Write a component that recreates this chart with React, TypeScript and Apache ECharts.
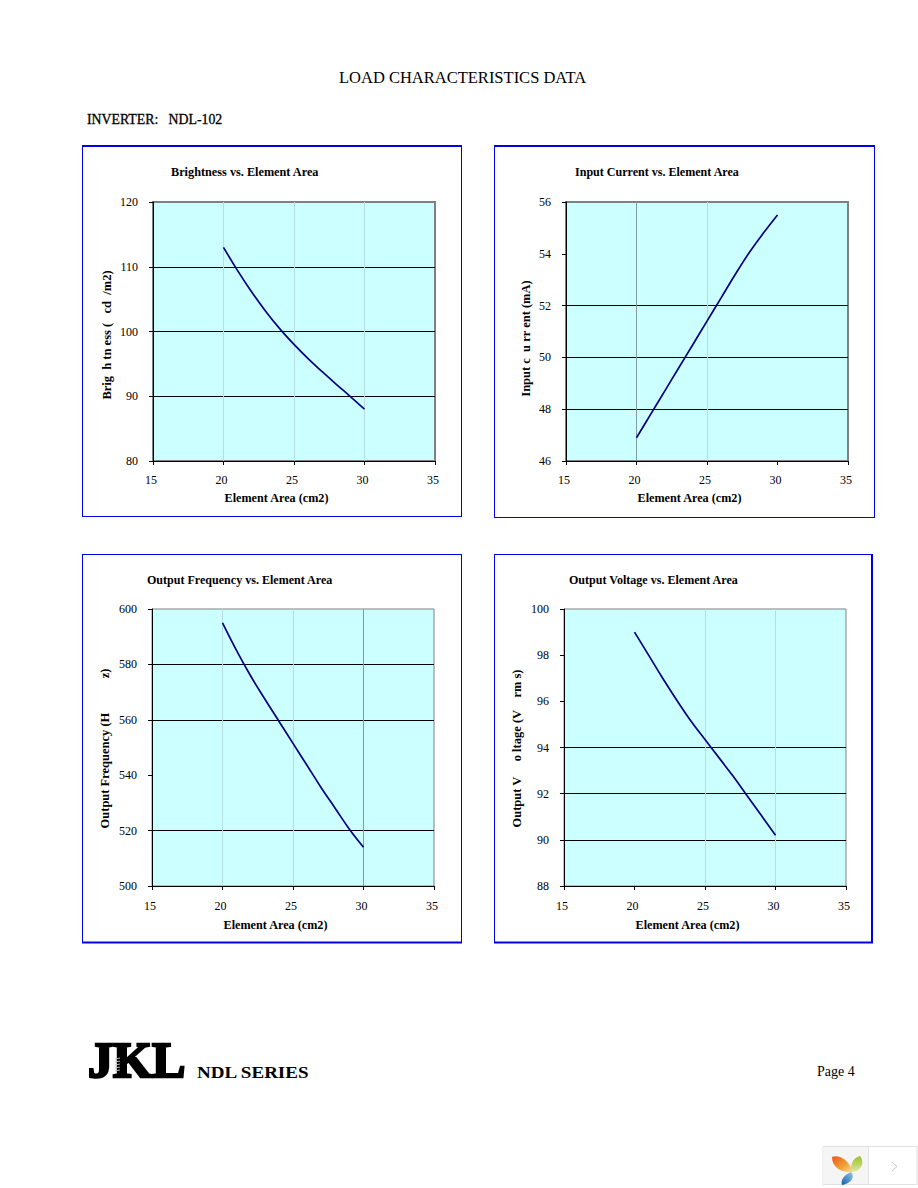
import React, { useEffect, useRef } from "react";
import * as echarts from "echarts";

const areas = [20, 21, 22, 23, 24, 25, 26, 27, 28, 29, 30];
const xTicks = { min: 15, max: 35, interval: 5 };

const brightness = [113, 109.4, 106.1, 103.1, 100.4, 98, 95.8, 93.8, 91.85, 89.95, 88];
const inputCurrent = [46.9, 47.8, 48.7, 49.6, 50.5, 51.4, 52.3, 53.2, 54.05, 54.8, 55.5];
const outputFrequency = [595, 585, 575.8, 567.5, 559.5, 551.5, 543.5, 535.5, 528, 520.5, 514];
const outputVoltage = [99, 98, 97, 96.05, 95.15, 94.35, 93.55, 92.75, 91.9, 91.05, 90.2];

const titles = [
  "Brightness vs. Element Area",
  "Input Current vs. Element Area",
  "Output Frequency vs. Element Area",
  "Output Voltage vs. Element Area",
];
const yNames = [
  "Brig  h tn ess (   cd  /m2)",
  "Input c  u rr ent (mA)",
  "Output Frequency (H           z)",
  "Output V     o ltage (V    rm s)",
];
const xName = "Element Area (cm2)";
const serif = "Liberation Serif";
const CLEAR = "rgba(0,0,0,0)";
const LIGHT = "#b5dcdf";
const DARK = "#7f9ca0";

registerShapes();

function registerShapes() {
  echarts.graphic.registerShape("leafOrange", echarts.graphic.extendPath("M832 1157 C838 1154 849 1159 853 1172 C844 1173 832 1169 832 1157 Z", {}));
  echarts.graphic.registerShape("leafGreen", echarts.graphic.extendPath("M860 1156 C865 1162 862 1171 852 1172 C849 1165 853 1158 860 1156 Z", {}));
  echarts.graphic.registerShape("leafBlue", echarts.graphic.extendPath("M851 1172 C856 1177 850 1184 842 1185 C840 1180 845 1174 851 1172 Z", {}));
}

const charts = [
  { g: [153, 202, 282, 259], min: 80, max: 120, step: 10, border: 2, data: brightness,
    hLines: [CLEAR, "#000", "#000", "#000", CLEAR], vLines: [CLEAR, LIGHT, LIGHT, LIGHT, CLEAR],
    title: [171, 172], titleSize: 12.25, gapX: 31, padX: 35, gapY: 40, padY: 7, tickMargin: 13 },
  { g: [566, 202, 282, 259], min: 46, max: 56, step: 2, border: 2, data: inputCurrent,
    hLines: [CLEAR, "#000", "#000", "#000", CLEAR, CLEAR], vLines: [CLEAR, DARK, LIGHT, CLEAR, CLEAR],
    title: [575, 172], titleSize: 12.05, gapX: 31, padX: 35, gapY: 34, padY: 14, tickMargin: 13 },
  { g: [152, 609, 282, 277], min: 500, max: 600, step: 20, border: 1, data: outputFrequency,
    hLines: [CLEAR, "#000", CLEAR, "#000", "#000", CLEAR], vLines: [CLEAR, LIGHT, LIGHT, DARK, CLEAR],
    title: [147, 580], titleSize: 12.05, gapX: 33, padX: 35, gapY: 41, padY: 2, tickMargin: 14 },
  { g: [564, 609, 282, 277], min: 88, max: 100, step: 2, border: 1, data: outputVoltage,
    hLines: [CLEAR, "#000", "#000", "#000", CLEAR, CLEAR, CLEAR], vLines: [CLEAR, CLEAR, LIGHT, LIGHT, CLEAR],
    title: [569, 580], titleSize: 12.05, gapX: 33, padX: 35, gapY: 41, padY: 2, tickMargin: 14 },
];

const BLUE = "#0000e6";
const edge = (x1: number, y1: number, x2: number, y2: number, w: number) => ({
  type: "line",
  shape: { x1, y1, x2, y2 },
  style: { stroke: BLUE, lineWidth: w },
  silent: true,
});
const frames = [
  edge(82, 146, 462, 146, 2), edge(82.5, 146, 82.5, 517, 1), edge(461.5, 146, 461.5, 517, 1), edge(82, 516.5, 462, 516.5, 1),
  edge(494, 146, 875, 146, 2), edge(494.5, 146, 494.5, 518, 1), edge(874.5, 146, 874.5, 518, 1), edge(494, 517.5, 875, 517.5, 1),
  edge(82, 554.5, 462, 554.5, 1), edge(82.5, 554, 82.5, 943, 1), edge(461.5, 554, 461.5, 943, 1), edge(82, 942.5, 462, 942.5, 2),
  edge(494, 554.5, 873, 554.5, 1), edge(494.5, 554, 494.5, 943, 1), edge(872, 554, 872, 943, 2), edge(494, 942.5, 873, 942.5, 2),
];

const txt = (text: string, x: number, y: number, size: number, weight: string, extra: any = {}, scaleX = 1) => ({
  type: "text",
  x,
  y,
  scaleX,
  silent: true,
  style: { text, fontFamily: serif, fontSize: size, fontWeight: weight, fill: "#000", verticalAlign: "middle", ...extra },
});

const springLines = [1058, 1061, 1064, 1067, 1070].map((y) => ({
  type: "line",
  shape: { x1: 115, y1: y + 1, x2: 120, y2: y },
  style: { stroke: "#bbbbbb", lineWidth: 1 },
  silent: true,
}));

function buildOption() {
  return {
    animation: false,
    backgroundColor: "#fff",
    grid: charts.map((c) => ({
      show: true,
      left: c.g[0],
      top: c.g[1],
      width: c.g[2],
      height: c.g[3],
      backgroundColor: "#ccffff",
      borderColor: "#808080",
      borderWidth: c.border,
    })),
    xAxis: charts.map((c, i) => ({
      type: "value",
      gridIndex: i,
      ...xTicks,
      name: xName,
      nameLocation: "middle",
      nameGap: c.gapX,
      nameTextStyle: { fontFamily: serif, fontSize: 12.2, fontWeight: "bold", color: "#000", padding: [0, c.padX, 0, 0] },
      axisLine: { show: true, onZero: false, lineStyle: { color: "#000", width: 1 } },
      axisTick: { show: true, length: 4, inside: false, lineStyle: { color: "#000" } },
      axisLabel: { fontFamily: serif, fontSize: 12, color: "#000", margin: c.tickMargin, padding: [0, 4, 0, 0] },
      splitLine: { show: true, lineStyle: { color: c.vLines, width: 1 } },
    })),
    yAxis: charts.map((c, i) => ({
      type: "value",
      gridIndex: i,
      min: c.min,
      max: c.max,
      interval: c.step,
      name: yNames[i],
      nameLocation: "middle",
      nameGap: c.gapY,
      nameRotate: 90,
      nameTextStyle: { fontFamily: serif, fontSize: 12.5, fontWeight: "bold", color: "#000", padding: [0, c.padY, 0, 0] },
      axisLine: { show: true, onZero: false, lineStyle: { color: "#000", width: 1 } },
      axisTick: { show: true, length: 4, inside: false, lineStyle: { color: "#000" } },
      axisLabel: { fontFamily: serif, fontSize: 12, color: "#000", margin: 15 },
      splitLine: { show: true, lineStyle: { color: c.hLines, width: 1 } },
    })),
    series: charts.map((c, i) => ({
      type: "line",
      xAxisIndex: i,
      yAxisIndex: i,
      data: areas.map((a, k) => [a, c.data[k]]),
      smooth: 0.4,
      showSymbol: false,
      lineStyle: { color: "#000080", width: 1.7 },
      silent: true,
    })),
    graphic: [
      ...frames,
      txt("LOAD CHARACTERISTICS DATA", 339, 77.5, 16.5, "normal"),
      txt("INVERTER:   NDL-102", 87, 119, 13.8, "normal", { stroke: "#000", lineWidth: 0.3 }),
      ...charts.map((c, i) => txt(titles[i], c.title[0], c.title[1], c.titleSize, "bold")),
      {
        type: "text",
        x: 88,
        y: 1060,
        silent: true,
        style: { text: "JKL", fontFamily: serif, fontSize: 50, fontWeight: "bold", fill: "#000", stroke: "#000", lineWidth: 2.5, verticalAlign: "middle" },
      },
      ...springLines,
      txt("NDL SERIES", 197, 1072, 17, "bold", {}, 1.12),
      txt("Page 4", 817, 1071, 14, "normal"),
      { type: "rect", shape: { x: 823, y: 1146.5, width: 94, height: 38 }, style: { fill: "#fff", stroke: "#e0e0e0", lineWidth: 1 }, silent: true },
      { type: "rect", shape: { x: 823.5, y: 1147, width: 45, height: 37 }, style: { fill: "#f5f5f5" }, silent: true },
      { type: "line", shape: { x1: 868.5, y1: 1146, x2: 868.5, y2: 1185 }, style: { stroke: "#e0e0e0", lineWidth: 1 }, silent: true },
      { type: "polyline", shape: { points: [[892, 1162], [897, 1166.5], [892, 1171]] }, style: { stroke: "#c8c8c8", lineWidth: 1, fill: "none" }, silent: true },
      { type: "leafOrange", x: 0, y: 0, silent: true, style: { fill: { type: "linear", x: 0, y: 0, x2: 1, y2: 1, colorStops: [{ offset: 0, color: "#e8581c" }, { offset: 0.6, color: "#f2a33a" }, { offset: 1, color: "#f6e3a0" }] } } },
      { type: "leafGreen", x: 0, y: 0, silent: true, style: { fill: { type: "linear", x: 0, y: 0, x2: 0, y2: 1, colorStops: [{ offset: 0, color: "#9ac02e" }, { offset: 1, color: "#dfe7a0" }] } } },
      { type: "leafBlue", x: 0, y: 0, silent: true, style: { fill: { type: "linear", x: 0, y: 1, x2: 1, y2: 0, colorStops: [{ offset: 0, color: "#0d5fa8" }, { offset: 1, color: "#9cc8e8" }] } } },
    ],
  };
}

export default function App() {
  const ref = useRef<HTMLDivElement>(null);
  useEffect(() => {
    document.body.style.margin = "0";
    const chart = echarts.init(ref.current!, null, { renderer: "svg" });
    chart.setOption(buildOption() as any);
    return () => chart.dispose();
  }, []);
  return <div ref={ref} style={{ width: 918, height: 1188 }} />;
}
